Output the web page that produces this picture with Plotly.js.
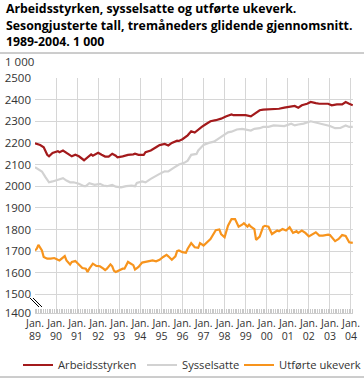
<!DOCTYPE html>
<html>
<head>
<meta charset="utf-8">
<script src="https://cdn.plot.ly/plotly-3.0.1.min.js"></script>
<style>
html,body{margin:0;padding:0;background:#fff;}
#chart{width:364px;height:378px;}
</style>
</head>
<body>
<div id="chart"></div>
<script>
// ---- Data (1 000 persons / weeks) ----
const arbeidsDates = ['1989-01','1989-04','1989-06','1989-08','1989-09','1989-11','1990-02','1990-03','1990-05','1990-07','1990-09','1990-10','1990-12','1991-02','1991-05','1991-07','1991-09','1991-10','1992-01','1992-03','1992-05','1992-07','1992-09','1992-11','1992-12','1993-03','1993-06','1993-09','1993-10','1993-12','1994-03','1994-04','1994-07','1994-10','1994-12','1995-03','1995-05','1995-07','1995-10','1995-11','1996-01','1996-04','1996-06','1996-08','1996-10','1996-12','1997-02','1997-05','1997-08','1997-11','1998-02','1998-05','1998-06','1998-09','1999-01','1999-04','1999-06','1999-09','1999-11','2000-02','2000-05','2000-08','2000-11','2001-02','2001-05','2001-07','2001-09','2001-12','2002-02','2002-05','2002-07','2002-10','2002-12','2003-02','2003-05','2003-08','2003-10','2003-12','2004-02'];
const arbeidsValues = [2198,2190,2180,2145,2138,2154,2162,2157,2165,2154,2141,2138,2145,2138,2120,2133,2147,2141,2154,2145,2137,2137,2150,2141,2133,2138,2145,2147,2150,2145,2145,2157,2165,2180,2190,2195,2188,2200,2210,2209,2217,2235,2254,2248,2263,2274,2285,2300,2305,2312,2323,2332,2328,2328,2328,2323,2335,2351,2354,2355,2358,2358,2363,2366,2371,2363,2374,2381,2389,2384,2381,2381,2381,2374,2378,2378,2389,2381,2374];

const syssDates = ['1989-01','1989-03','1989-05','1989-07','1989-09','1989-11','1990-02','1990-05','1990-07','1990-09','1990-11','1991-02','1991-05','1991-06','1991-08','1991-11','1992-02','1992-04','1992-06','1992-09','1992-11','1993-02','1993-05','1993-08','1993-10','1993-11','1994-02','1994-04','1994-07','1994-10','1994-12','1995-03','1995-05','1995-08','1995-11','1996-02','1996-04','1996-06','1996-09','1996-10','1997-01','1997-04','1997-07','1997-10','1998-01','1998-03','1998-05','1998-08','1998-11','1999-02','1999-04','1999-06','1999-09','1999-11','2000-02','2000-05','2000-08','2000-11','2001-03','2001-05','2001-07','2001-10','2002-02','2002-05','2002-08','2002-11','2003-01','2003-04','2003-07','2003-10','2003-12','2004-02'];
const syssValues = [2088,2080,2068,2042,2018,2022,2031,2037,2026,2018,2018,2011,2000,2000,2014,2006,2011,2003,2000,2006,1998,1995,2000,2003,2000,2015,2022,2018,2034,2049,2057,2069,2068,2085,2100,2108,2118,2145,2149,2165,2191,2200,2206,2222,2237,2249,2252,2262,2265,2260,2257,2265,2268,2274,2274,2281,2278,2278,2289,2281,2285,2289,2300,2294,2289,2281,2278,2268,2269,2281,2274,2274];

const ukeverkDates = ['1989-01','1989-02','1989-03','1989-05','1989-06','1989-08','1989-10','1989-12','1990-02','1990-03','1990-06','1990-07','1990-09','1990-10','1990-12','1991-02','1991-04','1991-06','1991-07','1991-08','1991-10','1991-12','1992-02','1992-04','1992-05','1992-06','1992-08','1992-09','1992-10','1992-11','1993-01','1993-03','1993-04','1993-06','1993-07','1993-09','1993-10','1993-12','1994-02','1994-04','1994-06','1994-08','1994-10','1994-12','1995-02','1995-04','1995-05','1995-07','1995-09','1995-10','1995-11','1996-01','1996-03','1996-04','1996-06','1996-08','1996-10','1996-11','1997-01','1997-03','1997-05','1997-08','1997-10','1997-11','1998-01','1998-03','1998-05','1998-07','1998-09','1998-11','1998-12','1999-02','1999-03','1999-04','1999-06','1999-07','1999-09','1999-11','1999-12','2000-02','2000-04','2000-07','2000-08','2000-10','2000-12','2001-02','2001-04','2001-06','2001-07','2001-09','2001-11','2002-01','2002-03','2002-05','2002-07','2002-09','2002-12','2003-01','2003-04','2003-06','2003-08','2003-10','2003-12','2004-02'];
const ukeverkValues = [1703,1711,1729,1703,1673,1665,1665,1668,1660,1657,1677,1657,1638,1650,1654,1638,1622,1619,1604,1619,1642,1632,1630,1619,1612,1619,1639,1630,1609,1604,1612,1619,1619,1650,1645,1635,1615,1627,1647,1650,1653,1657,1653,1660,1673,1683,1676,1660,1676,1700,1703,1695,1692,1711,1737,1718,1715,1737,1726,1741,1756,1797,1800,1779,1764,1817,1848,1848,1813,1822,1829,1813,1822,1813,1802,1752,1767,1813,1817,1813,1779,1795,1792,1802,1795,1810,1784,1792,1784,1795,1784,1768,1776,1787,1772,1772,1776,1774,1746,1756,1774,1770,1741,1738];

const seriesNames = ['Arbeidsstyrken','Sysselsatte','Utførte ukeverk'];
const titleLines = ['Arbeidsstyrken, sysselsatte og utførte ukeverk.', 'Sesongjusterte tall, tremåneders glidende gjennomsnitt.', '1989-2004. 1 000'];
const unitLabel = '1 000';
const xTickYears = ['89','90','91','92','93','94','95','96','97','98','99','00','01','02','03','04'];
const yTickLabels = ['1400','1500','1600','1700','1800','1900','2000','2100','2200','2300','2400','2500'];

// ---- Layout helpers ----
const W = 364, H = 378;
const M = {l: 35, r: 11, t: 78, b: 65};
const PW = W - M.l - M.r, PH = H - M.t - M.b;
const px = v => (v - M.l) / PW;          // pixel x -> paper
const py = v => (H - M.b - v) / PH;      // pixel y -> paper

const yBottom = 1414; // compressed axis break: 1400 drawn a bit closer to 1500
const yTickVals = yTickLabels.map((t, i) => i === 0 ? yBottom : Number(t));
const xTickVals = xTickYears.map(y => (Number(y) > 50 ? '19' : '20') + y + '-01-01');
const xTickText = xTickYears.map(y => 'Jan.<br>' + y);

const font = "'Open Sans', 'Noto Sans', sans-serif";
const colors = ['#a31a1c', '#d2d2d2', '#f7941d'];
const legendIds = ['legend', 'legend2', 'legend3'];
const legendX = [18, 142, 239]; // px of each legend box

const traces = [
  {x: arbeidsDates, y: arbeidsValues, name: seriesNames[0]},
  {x: syssDates, y: syssValues, name: seriesNames[1]},
  {x: ukeverkDates, y: ukeverkValues, name: seriesNames[2]}
].map((t, i) => Object.assign(t, {
  type: 'scatter', mode: 'lines',
  line: {color: colors[i], width: 2.2},
  legend: legendIds[i],
  hoverinfo: 'skip'
}));

const legendStyle = x => ({
  orientation: 'h', xref: 'container', yref: 'container',
  x: x / W, xanchor: 'left', y: 1 - 365 / H, yanchor: 'middle',
  font: {family: font, size: 11.2, color: '#333'},
  bgcolor: 'rgba(0,0,0,0)', borderwidth: 0
});

const titleAnn = titleLines.map((t, i) => ({
  text: '<b>' + t + '</b>', xref: 'paper', yref: 'paper',
  x: px(4), y: py(9 + 16 * i), xanchor: 'left', yanchor: 'middle',
  showarrow: false, font: {family: font, size: 12.3, color: '#000'}
}));

const layout = {
  width: W, height: H,
  margin: M,
  paper_bgcolor: '#fff', plot_bgcolor: '#fff',
  font: {family: font, size: 11, color: '#333'},
  showlegend: true,
  xaxis: {
    type: 'date',
    range: ['1989-01-01', '2004-02-05'],
    tickvals: xTickVals, ticktext: xTickText, tickangle: 0,
    tickfont: {family: font, size: 10.5, color: '#333'},
    ticks: '', showgrid: true, gridcolor: '#d6d6d6', gridwidth: 1,
    showline: true, linecolor: '#cfcfcf', linewidth: 1,
    zeroline: false, automargin: false,
    minor: {dtick: 'M1', ticks: 'inside', ticklen: 4, tickcolor: '#c8c8c8', tickwidth: 1, showgrid: false},
    fixedrange: true
  },
  yaxis: {
    range: [yBottom, 2500],
    tickvals: yTickVals, ticktext: yTickLabels,
    tickfont: {family: font, size: 11.5, color: '#333'},
    ticks: '', showgrid: true, gridcolor: '#d6d6d6', gridwidth: 1,
    showline: false, zeroline: false, automargin: false,
    ticklabelstandoff: 3,
    fixedrange: true
  },
  legend: legendStyle(legendX[0]),
  legend2: legendStyle(legendX[1]),
  legend3: legendStyle(legendX[2]),
  annotations: titleAnn.concat([{
    text: unitLabel, xref: 'paper', yref: 'paper', x: px(3), y: py(61),
    xanchor: 'left', yanchor: 'middle', showarrow: false,
    font: {family: font, size: 11.5, color: '#333'}
  }]),
  shapes: [
    {type: 'line', xref: 'paper', yref: 'paper', x0: px(0), x1: px(364), y0: py(53), y1: py(53), line: {color: '#9a9a9a', width: 1}},
    {type: 'line', xref: 'paper', yref: 'paper', x0: px(0), x1: px(364), y0: py(377), y1: py(377), line: {color: '#9a9a9a', width: 1}},
    {type: 'line', xref: 'paper', yref: 'paper', x0: px(30), x1: px(39), y0: py(298), y1: py(307), line: {color: '#000', width: 1}},
    {type: 'line', xref: 'paper', yref: 'paper', x0: px(33), x1: px(42), y0: py(298), y1: py(307), line: {color: '#000', width: 1}}
  ]
};

Plotly.newPlot('chart', traces, layout, {displayModeBar: false, staticPlot: true});
</script>
</body>
</html>
